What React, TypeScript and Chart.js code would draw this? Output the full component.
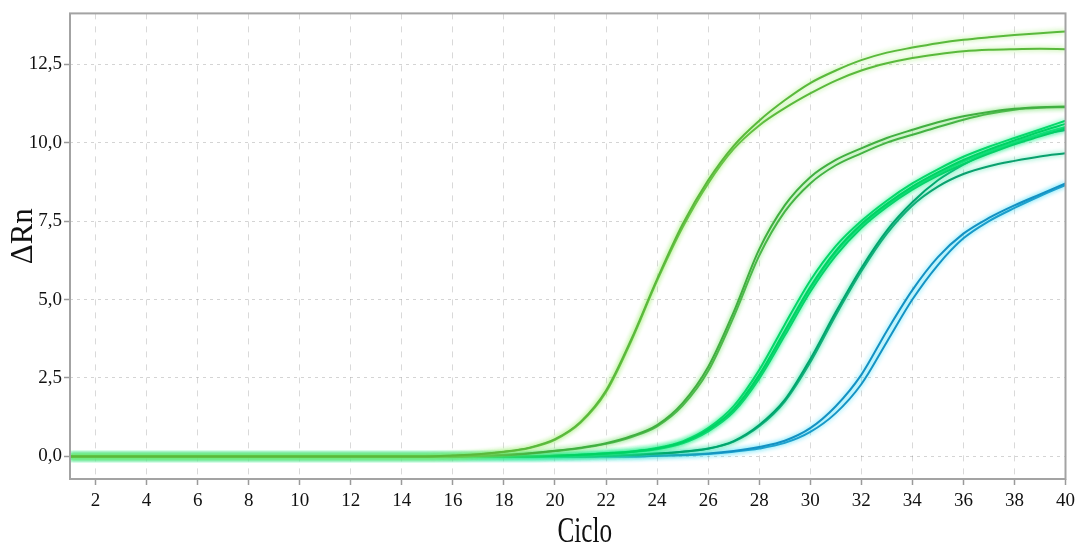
import React, { useEffect, useRef } from "react";
import { Chart, registerables } from "chart.js";

Chart.register(...registerables);

const CYCLES = [1, 2, 3, 4, 5, 6, 7, 8, 9, 10, 11, 12, 13, 14, 15, 16, 17, 18, 19, 20, 21, 22, 23, 24, 25, 26, 27, 28, 29, 30, 31, 32, 33, 34, 35, 36, 37, 38, 39, 40];
const X_TICKS = [2, 4, 6, 8, 10, 12, 14, 16, 18, 20, 22, 24, 26, 28, 30, 32, 34, 36, 38, 40];
const Y_TICKS = [0, 2.5, 5, 7.5, 10, 12.5];
const X_TITLE = "Ciclo";
const Y_TITLE = "ΔRn";

const S1A = [0, 0, 0, 0, 0, 0, 0, 0, 0, 0, 0, 0, 0, 0, 0, 0.03, 0.07, 0.15, 0.28, 0.55, 1.1, 2.1, 3.75, 5.65, 7.4, 8.8, 9.9, 10.7, 11.35, 11.9, 12.3, 12.63, 12.87, 13.03, 13.17, 13.28, 13.36, 13.43, 13.49, 13.54];
const S1B = [0, 0, 0, 0, 0, 0, 0, 0, 0, 0, 0, 0, 0, 0, 0, 0.02, 0.06, 0.14, 0.27, 0.53, 1.07, 2.05, 3.7, 5.6, 7.3, 8.7, 9.8, 10.55, 11.1, 11.57, 11.98, 12.3, 12.53, 12.7, 12.82, 12.91, 12.96, 12.98, 12.99, 12.98];
const S2A = [0, 0, 0, 0, 0, 0, 0, 0, 0, 0, 0, 0, 0, 0, 0, 0, 0.02, 0.05, 0.1, 0.18, 0.28, 0.42, 0.65, 1.0, 1.7, 2.85, 4.6, 6.6, 8.0, 8.9, 9.45, 9.82, 10.15, 10.41, 10.65, 10.84, 10.98, 11.08, 11.13, 11.15];
const S2B = [0, 0, 0, 0, 0, 0, 0, 0, 0, 0, 0, 0, 0, 0, 0, 0, 0.02, 0.04, 0.09, 0.17, 0.26, 0.4, 0.62, 0.96, 1.62, 2.72, 4.45, 6.4, 7.8, 8.7, 9.28, 9.66, 10.0, 10.25, 10.5, 10.73, 10.92, 11.05, 11.11, 11.13];
const S3A = [0, 0, 0, 0, 0, 0, 0, 0, 0, 0, 0, 0, 0, 0, 0, 0, 0, 0, 0, 0.02, 0.05, 0.09, 0.15, 0.25, 0.45, 0.85, 1.5, 2.6, 4.0, 5.4, 6.55, 7.4, 8.05, 8.6, 9.05, 9.45, 9.78, 10.07, 10.35, 10.6];
const S3B = [0, 0, 0, 0, 0, 0, 0, 0, 0, 0, 0, 0, 0, 0, 0, 0, 0, 0, 0, 0.02, 0.05, 0.1, 0.16, 0.27, 0.48, 0.9, 1.6, 2.75, 4.2, 5.6, 6.7, 7.5, 8.15, 8.7, 9.15, 9.55, 9.87, 10.15, 10.42, 10.7];
const S3C = [0, 0, 0, 0, 0, 0, 0, 0, 0, 0, 0, 0, 0, 0, 0, 0, 0, 0, 0, 0.02, 0.04, 0.08, 0.14, 0.23, 0.42, 0.8, 1.42, 2.48, 3.85, 5.25, 6.4, 7.28, 7.95, 8.5, 8.95, 9.32, 9.65, 9.95, 10.2, 10.45];
const S3D = [0, 0, 0, 0, 0, 0, 0, 0, 0, 0, 0, 0, 0, 0, 0, 0, 0, 0, 0, 0.02, 0.05, 0.09, 0.15, 0.25, 0.45, 0.85, 1.48, 2.55, 3.95, 5.35, 6.5, 7.35, 8.0, 8.55, 9.0, 9.4, 9.72, 10.0, 10.27, 10.5];
const S4A = [0, 0, 0, 0, 0, 0, 0, 0, 0, 0, 0, 0, 0, 0, 0, 0, 0, 0, 0, 0, 0, 0.02, 0.05, 0.09, 0.15, 0.25, 0.49, 1.0, 1.8, 3.1, 4.6, 6.0, 7.2, 8.1, 8.8, 9.3, 9.7, 10.0, 10.25, 10.4];
const S4B = [0, 0, 0, 0, 0, 0, 0, 0, 0, 0, 0, 0, 0, 0, 0, 0, 0, 0, 0, 0, 0, 0.02, 0.05, 0.09, 0.15, 0.24, 0.47, 0.96, 1.75, 3.0, 4.5, 5.9, 7.1, 8.0, 8.6, 9.0, 9.25, 9.42, 9.56, 9.66];
const S5A = [0, 0, 0, 0, 0, 0, 0, 0, 0, 0, 0, 0, 0, 0, 0, 0, 0, 0, 0, 0, 0, 0, 0, 0.02, 0.05, 0.09, 0.17, 0.3, 0.5, 0.9, 1.6, 2.6, 4.0, 5.3, 6.35, 7.1, 7.6, 8.0, 8.35, 8.7];
const S5B = [0, 0, 0, 0, 0, 0, 0, 0, 0, 0, 0, 0, 0, 0, 0, 0, 0, 0, 0, 0, 0, 0, 0, 0.02, 0.04, 0.08, 0.15, 0.25, 0.43, 0.78, 1.38, 2.3, 3.65, 5.0, 6.1, 6.95, 7.5, 7.92, 8.3, 8.65];

const SERIES = [S1A, S1B, S2A, S2B, S3A, S3B, S3C, S3D, S4A, S4B, S5A, S5B];
const CORE_COLORS = [
  "rgb(90,185,60)", "rgb(90,185,60)",
  "rgb(65,175,65)", "rgb(65,175,65)",
  "rgb(0,210,100)", "rgb(0,210,100)", "rgb(0,205,100)", "rgb(0,210,105)",
  "rgb(0,165,110)", "rgb(10,160,110)",
  "rgb(20,145,195)", "rgb(20,145,195)",
];
const GLOW_COLORS = [
  "rgba(150,235,100,0.95)", "rgba(150,235,100,0.95)",
  "rgba(120,225,110,0.95)", "rgba(120,225,110,0.95)",
  "rgba(40,240,140,0.95)", "rgba(40,240,140,0.95)", "rgba(40,240,140,0.95)", "rgba(40,240,140,0.95)",
  "rgba(50,225,160,0.95)", "rgba(50,225,160,0.95)",
  "rgba(60,220,245,0.95)", "rgba(60,220,245,0.95)",
];

const glowPlugin = {
  id: "glow",
  beforeDatasetDraw(chart: any, args: any) {
    const ctx = chart.ctx;
    ctx.save();
    ctx.shadowColor = GLOW_COLORS[args.index];
    ctx.shadowBlur = 5;
  },
  afterDatasetDraw(chart: any) {
    chart.ctx.restore();
  },
};

const framePlugin = {
  id: "frame",
  afterDraw(chart: any) {
    const { ctx, chartArea } = chart;
    ctx.save();
    ctx.strokeStyle = "#a3a3a3";
    ctx.lineWidth = 2;
    ctx.strokeRect(chartArea.left, chartArea.top, chartArea.right - chartArea.left, chartArea.bottom - chartArea.top);
    ctx.fillStyle = "#111";
    ctx.save();
    ctx.translate((chartArea.left + chartArea.right) / 2 + 17, 542);
    ctx.scale(0.7, 1);
    ctx.font = "36px 'Liberation Serif'";
    ctx.textAlign = "center";
    ctx.textBaseline = "alphabetic";
    ctx.fillText(X_TITLE, 0, 0);
    ctx.restore();
    ctx.save();
    ctx.translate(32, (chartArea.top + chartArea.bottom) / 2 - 10);
    ctx.rotate(-Math.PI / 2);
    ctx.font = "31px 'Liberation Serif'";
    ctx.textAlign = "center";
    ctx.textBaseline = "alphabetic";
    ctx.fillText(Y_TITLE, 0, 0);
    ctx.restore();
    ctx.restore();
  },
};

export default function App() {
  const canvasRef = useRef<HTMLCanvasElement | null>(null);

  useEffect(() => {
    document.body.style.margin = "0";
    const canvas = canvasRef.current;
    if (!canvas) return;
    const datasets = SERIES.map((s, i) => ({
      label: "S" + (i + 1),
      data: CYCLES.map((c, j) => ({ x: c, y: s[j] })),
      borderColor: CORE_COLORS[i],
      backgroundColor: CORE_COLORS[i],
      borderWidth: 2,
      pointRadius: 0,
      fill: false,
      cubicInterpolationMode: "monotone" as const,
    }));
    const chart = new Chart(canvas, {
      type: "line",
      data: { datasets },
      plugins: [glowPlugin, framePlugin],
      options: {
        animation: false,
        responsive: false,
        maintainAspectRatio: false,
        layout: { padding: { top: 11, right: 14, left: 0, bottom: 0 } },
        plugins: { legend: { display: false }, tooltip: { enabled: false } },
        scales: {
          x: {
            type: "linear",
            min: 1,
            max: 40,
            afterBuildTicks: (scale: any) => {
              scale.ticks = X_TICKS.map((v) => ({ value: v }));
            },
            afterFit: (scale: any) => {
              scale.height = 67;
            },
            border: { display: false, dash: [6, 7] },
            grid: {
              color: "rgba(0,0,0,0.15)",
              lineWidth: 1,
              drawTicks: true,
              tickLength: 6,
              tickColor: "#9a9a9a",
              tickWidth: 1.5,
              tickBorderDash: [],
            } as any,
            ticks: {
              autoSkip: false,
              maxRotation: 0,
              padding: 5,
              color: "#111",
              font: { family: "'Liberation Serif'", size: 19 },
            },
          },
          y: {
            type: "linear",
            min: -0.72,
            max: 14.12,
            afterBuildTicks: (scale: any) => {
              scale.ticks = Y_TICKS.map((v) => ({ value: v }));
            },
            afterFit: (scale: any) => {
              scale.width = 70;
            },
            border: { display: false, dash: [3, 4] },
            grid: {
              color: "rgba(0,0,0,0.17)",
              lineWidth: 1,
              drawTicks: true,
              tickLength: 6,
              tickColor: "#9a9a9a",
              tickWidth: 1.5,
              tickBorderDash: [],
            } as any,
            ticks: {
              padding: 2,
              color: "#111",
              font: { family: "'Liberation Serif'", size: 19 },
              callback: (v: any) => Number(v).toFixed(1).replace(".", ","),
            },
          },
        },
      },
    });
    return () => chart.destroy();
  }, []);

  return (
    <div style={{ width: 1080, height: 546, position: "relative", background: "#fff" }}>
      <canvas ref={canvasRef} width={1080} height={546} />
    </div>
  );
}
